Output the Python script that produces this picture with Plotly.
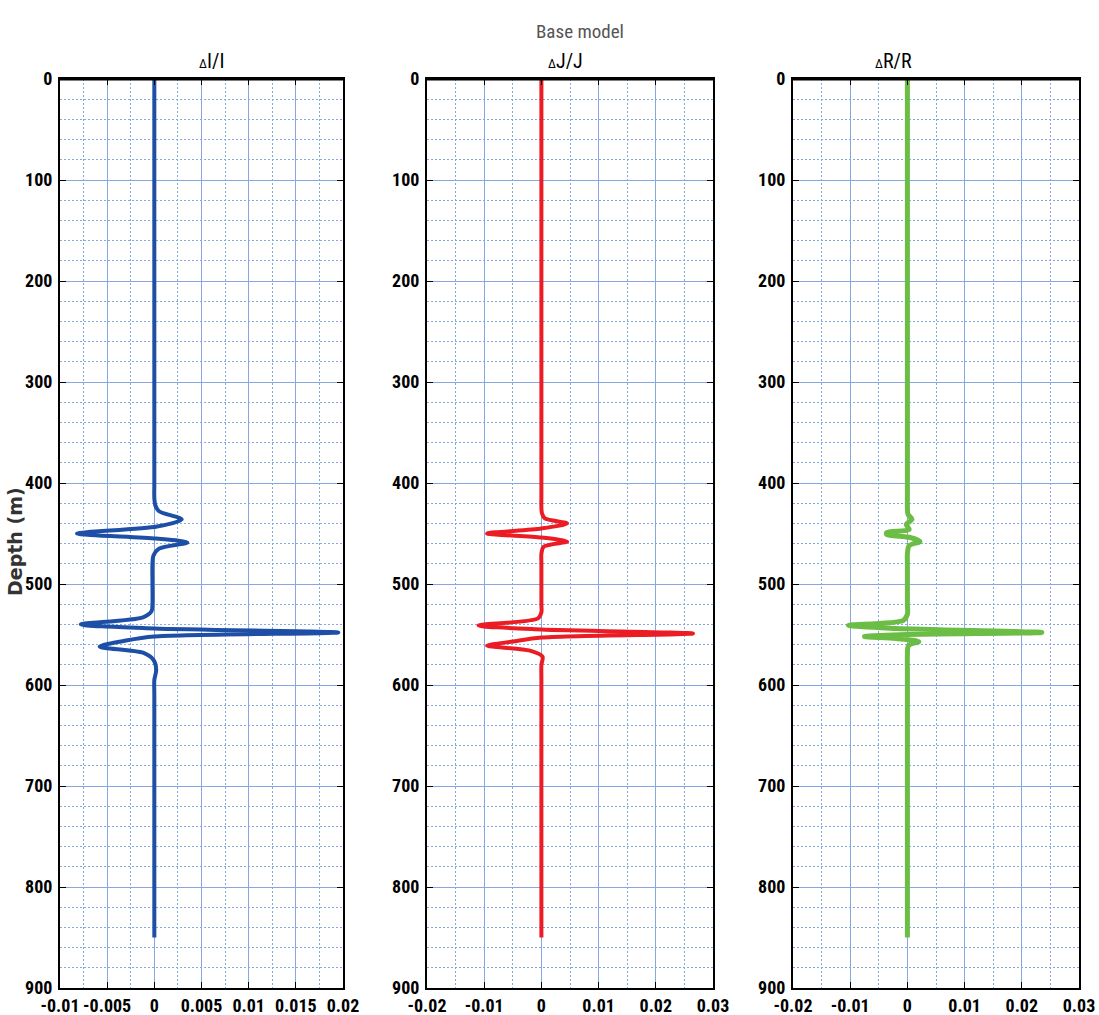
import plotly.graph_objects as go

# ---------------- data ----------------
depth_I = [0, 400, 415, 422, 428, 436, 443, 450, 455, 459, 465, 472, 480, 500, 520, 527, 533, 540, 544, 548, 552, 556, 562, 568, 575, 585, 595, 610, 850]
dI_I    = [0, 0, 0, 0.0001, 0.0005, 0.0029, 0.0003, -0.0082, 0.0002, 0.0035, 0.0005, -0.0001, -0.0002, -0.0002, -0.0002, -0.0003, -0.0012, -0.0078, 0.0, 0.0195, 0.0, -0.003, -0.0058, -0.0012, -0.0001, 0.0002, 0, 0, 0]

depth_J = [0, 410, 425, 430, 435, 440, 445, 450, 454, 458, 463, 470, 480, 520, 528, 534, 541, 545, 549, 553, 557, 561, 566, 572, 580, 595, 850]
dJ_J    = [0, 0, 0, 0.0001, 0.0006, 0.0045, 0.0, -0.0095, 0.0, 0.0045, 0.0004, 0, 0, 0, 0, -0.0006, -0.011, 0.0, 0.0265, 0.0, -0.005, -0.0095, -0.002, 0.0002, 0, 0, 0]

depth_R = [0, 410, 425, 431, 436, 441, 446, 449, 451, 454, 458, 462, 470, 480, 520, 530, 536, 541, 544, 548, 550, 552, 554, 557, 561, 570, 585, 850]
dR_R    = [0, 0, 0, 0.0001, 0.0008, -0.0002, 0.0003, -0.0036, -0.0036, 0.0005, 0.0022, 0.0003, 0, 0, 0, 0, -0.0007, -0.0103, -0.002, 0.0235, 0.0, -0.0075, -0.002, 0.002, 0.0002, 0, 0, 0]

titles = ["<span style='font-size:13px'>Δ</span>I/I",
          "<span style='font-size:13px'>Δ</span>J/J",
          "<span style='font-size:13px'>Δ</span>R/R"]
main_title = "Base model"
y_label = "Depth (m)"

y_ticks = [0, 100, 200, 300, 400, 500, 600, 700, 800, 900]
x1_ticks = [-0.01, -0.005, 0, 0.005, 0.01, 0.015, 0.02]
x1_text = ["-0.01", "-0.005", "0", "0.005", "0.01", "0.015", "0.02"]
x23_ticks = [-0.02, -0.01, 0, 0.01, 0.02, 0.03]
x23_text = ["-0.02", "-0.01", "0", "0.01", "0.02", "0.03"]

colors = ["#1d4fa6", "#ec1c24", "#6cbd45"]
widths = [4, 4, 5]

W, H = 1099, 1015
FONT = "Roboto Condensed, Liberation Sans Narrow, Arial Narrow, DejaVu Sans Condensed, sans-serif"
GRID = "#86a8e0"
DOT = "1.5px,2.5px"

fig = go.Figure()

series = [(depth_I, dI_I), (depth_J, dJ_J), (depth_R, dR_R)]
for i, (d, v) in enumerate(series):
    fig.add_trace(go.Scatter(
        x=v, y=d, mode="lines",
        line=dict(color=colors[i], width=widths[i], shape="spline", smoothing=0.8),
        xaxis="x" if i == 0 else f"x{i+1}",
        yaxis="y" if i == 0 else f"y{i+1}",
        showlegend=False, hoverinfo="skip"))

px_dom = [(60, 343), (427, 713), (793, 1079)]
ytop, ybot = 79, 988
ydom = [1 - ybot / H, 1 - ytop / H]

layout = dict(
    width=W, height=H,
    margin=dict(l=0, r=0, t=0, b=0),
    paper_bgcolor="white", plot_bgcolor="white",
    showlegend=False,
)

for i, (a, b) in enumerate(px_dom):
    xk = "xaxis" if i == 0 else f"xaxis{i+1}"
    yk = "yaxis" if i == 0 else f"yaxis{i+1}"
    xa = "x" if i == 0 else f"x{i+1}"
    if i == 0:
        rng, tv, tt, minor = [-0.01, 0.02], x1_ticks, x1_text, 0.0025
    else:
        rng, tv, tt, minor = [-0.02, 0.03], x23_ticks, x23_text, 0.005
    layout[xk] = dict(
        domain=[a / W, b / W], anchor=("y" if i == 0 else f"y{i+1}"),
        range=rng, tickmode="array", tickvals=tv, ticktext=tt,
        showgrid=True, gridcolor=GRID, gridwidth=1,
        minor=dict(dtick=minor, tick0=0, showgrid=True, gridcolor=GRID, griddash=DOT, gridwidth=1, ticks=""),
        showline=True, linecolor="black", linewidth=2, mirror="ticks",
        ticks="inside", ticklen=6, tickcolor="black", tickwidth=1,
        zeroline=False, automargin=False, ticklabelstandoff=0,
        ticklabeloverflow="allow",
        tickfont=dict(family=FONT, size=18, color="black", weight="bold"),
    )
    layout[yk] = dict(
        domain=ydom, anchor=xa,
        range=[900, 0], tickmode="array", tickvals=y_ticks,
        showgrid=True, gridcolor=GRID, gridwidth=1,
        minor=dict(dtick=20, tick0=0, showgrid=True, gridcolor=GRID, griddash=DOT, gridwidth=1, ticks=""),
        showline=True, linecolor="black", linewidth=2, mirror="ticks",
        ticks="inside", ticklen=6, tickcolor="black", tickwidth=1,
        zeroline=False, automargin=False, ticklabelstandoff=2,
        ticklabeloverflow="allow",
        tickfont=dict(family=FONT, size=18, color="black", weight="bold"),
    )

annotations = [
    dict(text=main_title, x=580 / W, y=1 - 18 / H, xref="paper", yref="paper",
         showarrow=False, font=dict(family=FONT, size=19, color="#555555")),
    dict(text=y_label, x=15 / W, y=1 - 542 / H, xref="paper", yref="paper",
         xanchor="center", yanchor="middle",
         showarrow=False, textangle=-90,
         font=dict(family="DejaVu Sans, sans-serif", size=19, color="#333333", weight="bold")),
]
title_x = [197, 565, 914]
for i in range(3):
    annotations.append(dict(text=titles[i], x=title_x[i] / W, y=1 - 47 / H,
                            xref="paper", yref="paper", showarrow=False,
                            font=dict(family=FONT, size=20, color="black")))
layout["annotations"] = annotations

# thicker top border
shapes = []
for i, (a, b) in enumerate(px_dom):
    shapes.append(dict(type="line", xref="paper", yref="paper",
                       x0=a / W, x1=b / W, y0=ydom[1], y1=ydom[1],
                       line=dict(color="black", width=3)))
layout["shapes"] = shapes

fig.update_layout(**layout)
fig.write_html("out.html")
